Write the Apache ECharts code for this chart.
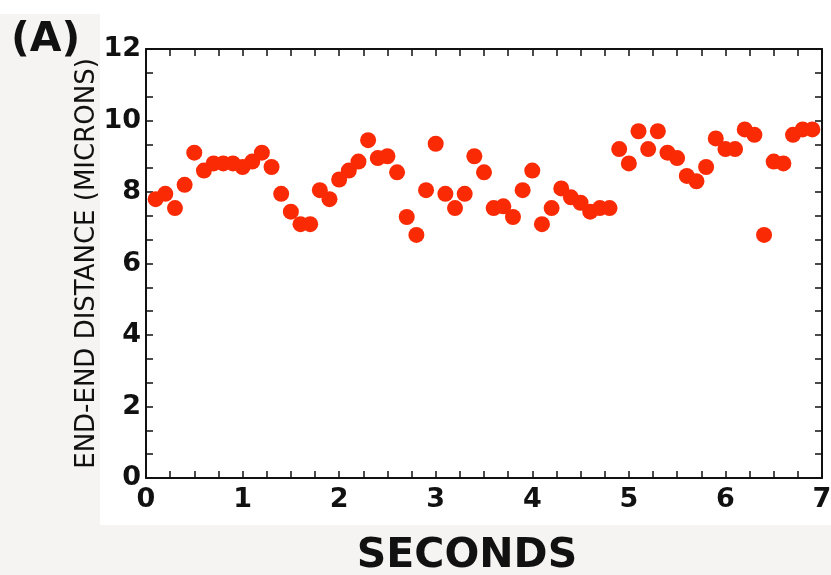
<!DOCTYPE html>
<html><head><meta charset="utf-8">
<script src="https://cdn.jsdelivr.net/npm/echarts@6/dist/echarts.min.js"></script>
<style>html,body{margin:0;padding:0;background:#f6f4f3}#c{width:831px;height:575px}</style>
</head><body><div id="c"></div>
<script>
const seconds = [0.1,0.2,0.3,0.4,0.5,0.6,0.7,0.8,0.9,1.0,1.1,1.2,1.3,1.4,1.5,1.6,1.7,1.8,1.9,2.0,2.1,2.2,2.3,2.4,2.5,2.6,2.7,2.8,2.9,3.0,3.1,3.2,3.3,3.4,3.5,3.6,3.7,3.8,3.9,4.0,4.1,4.2,4.3,4.4,4.5,4.6,4.7,4.8,4.9,5.0,5.1,5.2,5.3,5.4,5.5,5.6,5.7,5.8,5.9,6.0,6.1,6.2,6.3,6.4,6.5,6.6,6.7,6.8,6.9];
const distance = [7.8,7.95,7.55,8.2,9.1,8.6,8.8,8.8,8.8,8.7,8.85,9.1,8.7,7.95,7.45,7.1,7.1,8.05,7.8,8.35,8.6,8.85,9.45,8.95,9.0,8.55,7.3,6.8,8.05,9.35,7.95,7.55,7.95,9.0,8.55,7.55,7.6,7.3,8.05,8.6,7.1,7.55,8.1,7.85,7.7,7.45,7.55,7.55,9.2,8.8,9.7,9.2,9.7,9.1,8.95,8.45,8.3,8.7,9.5,9.2,9.2,9.75,9.6,6.8,8.85,8.8,9.6,9.75,9.75];
const xTicks = [0,1,2,3,4,5,6,7];
const yTicks = [0,2,4,6,8,10,12];

const FONT = '"DejaVu Sans", sans-serif';
const chart = echarts.init(document.getElementById('c'));
const line = () => ({show:true, onZero:false, lineStyle:{color:'#111', width:2}});
const tick = () => ({show:true, inside:true, length:7, lineStyle:{color:'#111', width:1.5}});
const minor = (n) => ({show:true, splitNumber:n, length:7, lineStyle:{color:'#111', width:1.5}});
chart.setOption({
  backgroundColor:'#f6f4f3',
  animation:false,
  graphic:[
    {type:'rect', shape:{x:0,y:0,width:831,height:14}, style:{fill:'#ffffff'}, z:-10},
    {type:'rect', shape:{x:100,y:14,width:731,height:511}, style:{fill:'#ffffff'}, z:-10},
    {type:'text', left:11, top:20, style:{text:'(A)', font:'bold 41px '+FONT, fill:'#111'}}
  ],
  grid:{left:146, right:9, top:49, bottom:97, containLabel:false, outerBoundsMode:'none'},
  xAxis:[
    {type:'value', min:xTicks[0], max:xTicks[xTicks.length-1], interval:1,
     name:'SECONDS', nameLocation:'middle', nameGap:58, nameMoveOverlap:false,
     nameTextStyle:{fontFamily:FONT, fontWeight:'bold', fontSize:41, color:'#111', padding:[0,34,0,0]},
     axisLine:line(), axisTick:tick(), minorTick:minor(4),
     splitLine:{show:false},
     axisLabel:{fontFamily:FONT, fontWeight:'bold', fontSize:27, color:'#111', margin:8}},
    {type:'value', position:'top', min:0, max:7, interval:1,
     axisLine:line(), axisTick:tick(), minorTick:minor(4),
     splitLine:{show:false}, axisLabel:{show:false}}
  ],
  yAxis:[
    {type:'value', min:yTicks[0], max:yTicks[yTicks.length-1], interval:2,
     name:'END-END DISTANCE (MICRONS)', nameLocation:'middle', nameGap:46, nameMoveOverlap:false,
     nameTextStyle:{fontFamily:FONT, fontWeight:'normal', fontSize:26, color:'#111'},
     axisLine:line(), axisTick:tick(), minorTick:minor(3),
     splitLine:{show:false},
     axisLabel:{fontFamily:FONT, fontWeight:'bold', fontSize:27, color:'#111', margin:5}},
    {type:'value', position:'right', min:0, max:12, interval:2,
     axisLine:line(), axisTick:tick(), minorTick:minor(3),
     splitLine:{show:false}, axisLabel:{show:false}}
  ],
  series:[{
    type:'scatter', xAxisIndex:0, yAxisIndex:0,
    data: seconds.map((s,i)=>[s, distance[i]]),
    symbol:'circle', symbolSize:16,
    itemStyle:{color:'#fa2a05', opacity:1}
  }]
});
</script></body></html>
